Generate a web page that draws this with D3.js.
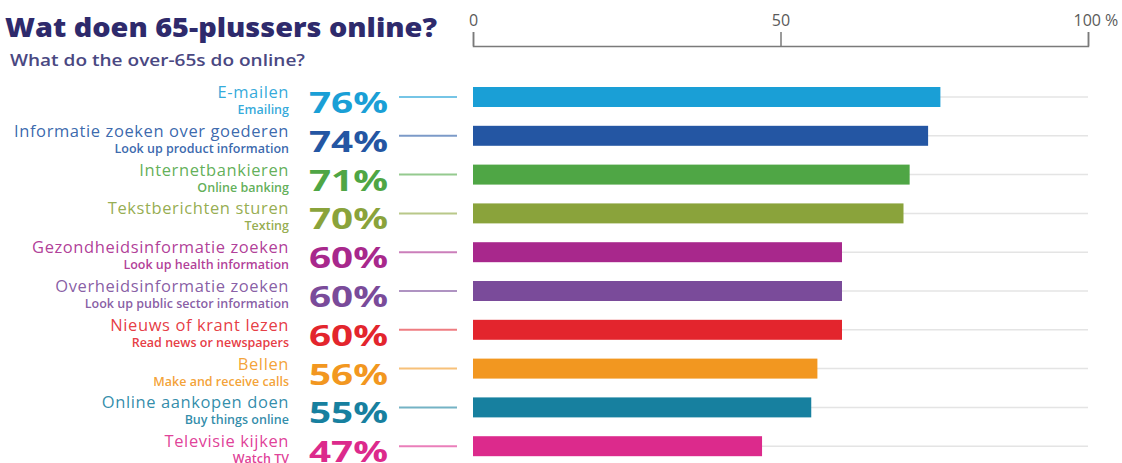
<!DOCTYPE html>
<html>
<head>
<meta charset="utf-8">
<script src="https://cdn.jsdelivr.net/npm/d3@7"></script>
<style>
  body { margin: 0; background: #fff; }
  svg { display: block; font-family: "Open Sans", "Noto Sans", sans-serif; }
  .axis-x path, .axis-x line { stroke: #7a7a7a; stroke-width: 1.5; }
  .axis-x text { fill: #5a5a5a; font-size: 16px; font-family: "Open Sans", sans-serif; }
</style>
</head>
<body>
<div id="chart"></div>
<script>
// activity labels (Dutch), English translations, share of 65+ internet users
const labelsNl = [
  "E-mailen", "Informatie zoeken over goederen", "Internetbankieren",
  "Tekstberichten sturen", "Gezondheidsinformatie zoeken", "Overheidsinformatie zoeken",
  "Nieuws of krant lezen", "Bellen", "Online aankopen doen", "Televisie kijken"
];
const labelsEn = [
  "Emailing", "Look up product information", "Online banking",
  "Texting", "Look up health information", "Look up public sector information",
  "Read news or newspapers", "Make and receive calls", "Buy things online", "Watch TV"
];
const values = [76, 74, 71, 70, 60, 60, 60, 56, 55, 47];
const colors = [
  "#1a9fd6", "#2456a3", "#4fa645", "#8aa33b", "#a8288c",
  "#7a4b9a", "#e3252d", "#f29720", "#17809f", "#dc2a8c"
];
const axisTicks = [0, 50, 100];

const width = 1122, height = 463;

const svg = d3.select("#chart").append("svg")
  .attr("width", width)
  .attr("height", height);

// title
svg.append("text")
  .attr("x", 5).attr("y", 37)
  .attr("textLength", 432).attr("lengthAdjust", "spacingAndGlyphs")
  .style("font-size", "26px").style("font-weight", 800)
  .style("fill", "#2e2a6c")
  .text("Wat doen 65-plussers online?");

svg.append("text")
  .attr("x", 10).attr("y", 66)
  .attr("textLength", 295).attr("lengthAdjust", "spacingAndGlyphs")
  .style("font-size", "17px").style("font-weight", 600)
  .style("fill", "#4a4882")
  .text("What do the over-65s do online?");

// scales
const x = d3.scaleLinear().domain([0, 100]).range([473, 1088]);
const y = d3.scaleBand()
  .domain(labelsNl)
  .range([77.6, 465.6])
  .paddingInner(0.485)
  .paddingOuter(0.2425);

// axis on top
svg.append("g")
  .attr("class", "axis-x")
  .attr("transform", "translate(0,46)")
  .call(d3.axisTop(x).tickValues(axisTicks).tickSize(14).tickSizeOuter(14).tickPadding(6)
    .tickFormat(d => d === 100 ? "100 %" : d))
  .call(g => g.selectAll(".tick text")
    .filter(d => d === 100)
    .attr("text-anchor", "start")
    .attr("x", -15));

const rows = svg.append("g").selectAll("g")
  .data(values.map((v, i) => ({ nl: labelsNl[i], en: labelsEn[i], value: v, color: colors[i] })))
  .join("g");

const mid = d => y(d.nl) + y.bandwidth() / 2;

// light grid lines behind bars
rows.append("line")
  .attr("x1", x(0)).attr("x2", x(100))
  .attr("y1", mid).attr("y2", mid)
  .attr("stroke", "#e4e4e4").attr("stroke-width", 1.5);

// bars
rows.append("rect")
  .attr("x", x(0))
  .attr("y", d => y(d.nl))
  .attr("width", d => x(d.value) - x(0))
  .attr("height", y.bandwidth())
  .attr("fill", d => d.color);

// connector lines
rows.append("line")
  .attr("x1", 399).attr("x2", 457)
  .attr("y1", mid).attr("y2", mid)
  .attr("stroke", d => d.color).attr("stroke-opacity", 0.6).attr("stroke-width", 2);

// big percentages
rows.append("text")
  .attr("x", 388).attr("y", d => mid(d) + 16)
  .attr("text-anchor", "end")
  .attr("textLength", 79).attr("lengthAdjust", "spacingAndGlyphs")
  .style("font-size", "29px").style("font-weight", 700)
  .style("fill", d => d.color)
  .text(d => d.value + "%");

// Dutch label
rows.append("text")
  .attr("x", 289).attr("y", d => mid(d) + 1)
  .attr("text-anchor", "end")
  .style("font-size", "16.5px").style("letter-spacing", "0.6px")
  .style("fill", d => d.color).style("fill-opacity", 0.9)
  .text(d => d.nl);

// English label
rows.append("text")
  .attr("x", 289).attr("y", d => mid(d) + 17)
  .attr("text-anchor", "end")
  .style("font-size", "12.5px").style("font-weight", 600)
  .style("fill", d => d.color).style("fill-opacity", 0.9)
  .text(d => d.en);
</script>
</body>
</html>
